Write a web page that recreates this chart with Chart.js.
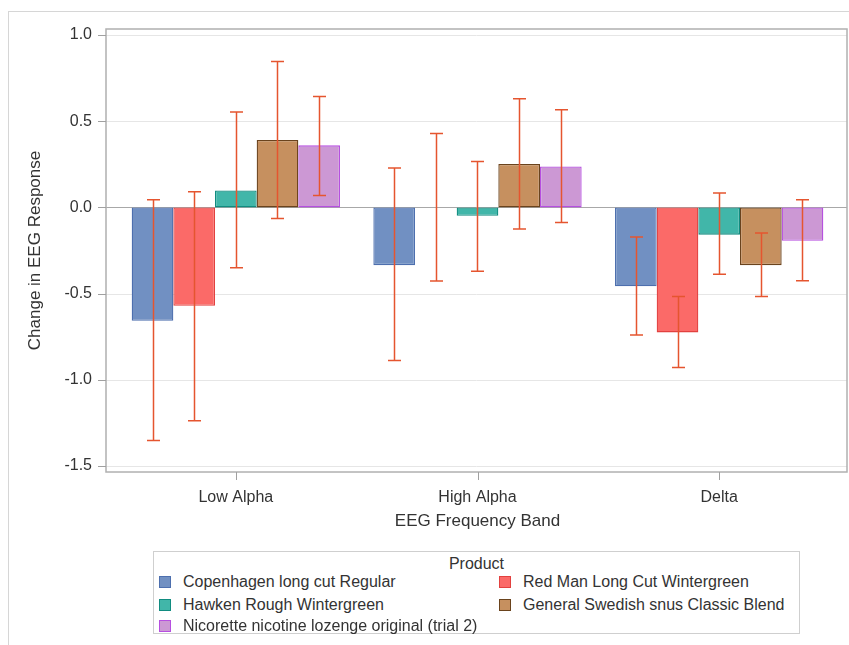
<!DOCTYPE html>
<html>
<head>
<meta charset="utf-8">
<script src="https://cdn.jsdelivr.net/npm/chart.js@4.4.1/dist/chart.umd.min.js"></script>
<style>
  body { margin: 0; background: #fff; }
  #wrap { position: relative; width: 849px; height: 645px; overflow: hidden; font-family: "Liberation Sans", Arial, sans-serif; }
  #outer { position: absolute; left: 8px; top: 11px; width: 900px; height: 700px; border-left: 1px solid #d6d6d6; border-top: 1px solid #d6d6d6; }
  #chart { position: absolute; left: 0; top: 0; }
  #legend { position: absolute; left: 153px; top: 551px; width: 647px; height: 83px; border: 1px solid #cfcfcf; box-sizing: border-box; color: #333; font-size: 16px; background: #fff; }
  #legend .title { position: absolute; left: 0; right: 0; top: 2px; text-align: center; line-height: 20px; }
  #legend .item { position: absolute; line-height: 20px; white-space: nowrap; }
  #legend .sw { position: absolute; left: 0; top: 4px; width: 10px; height: 10px; border: 1.5px solid; }
  #legend .lbl { position: absolute; left: 24px; top: 0; }
</style>
</head>
<body>
<div id="wrap">
  <div id="outer"></div>
  <canvas id="chart" width="849" height="645"></canvas>
  <div id="legend"></div>
</div>
<script>
// ---- data ----
const categories = ['Low Alpha', 'High Alpha', 'Delta'];
const products = [
  'Copenhagen long cut Regular',
  'Red Man Long Cut Wintergreen',
  'Hawken Rough Wintergreen',
  'General Swedish snus Classic Blend',
  'Nicorette nicotine lozenge original (trial 2)'
];
const copenhagen = [-0.658, -0.335, -0.458];
const redMan     = [-0.571,  0.000, -0.725];
const hawken     = [ 0.098, -0.048, -0.158];
const swedish    = [ 0.391,  0.252, -0.335];
const nicorette  = [ 0.360,  0.238, -0.194];

const copenhagenLow = [-1.352, -0.888, -0.740];
const redManLow     = [-1.237, -0.427, -0.929];
const hawkenLow     = [-0.350, -0.371, -0.388];
const swedishLow    = [-0.065, -0.125, -0.517];
const nicoretteLow  = [ 0.069, -0.087, -0.425];

const copenhagenUp = [ 0.044,  0.229, -0.171];
const redManUp     = [ 0.091,  0.429, -0.517];
const hawkenUp     = [ 0.554,  0.267,  0.083];
const swedishUp    = [ 0.846,  0.631, -0.148];
const nicoretteUp  = [ 0.644,  0.567,  0.044];

const yTicks = [-1.5, -1.0, -0.5, 0.0, 0.5, 1.0];

// ---- styles ----
const fills   = ['#7190c2', '#fb6a68', '#41b6a9', '#c6905f', '#cc98d4'];
const borders = ['#4d6fae', '#e2413f', '#118c80', '#6a431d', '#b64fe0'];
const errColor = '#e5552f';

const means = [copenhagen, redMan, hawken, swedish, nicorette];
const lows  = [copenhagenLow, redManLow, hawkenLow, swedishLow, nicoretteLow];
const ups   = [copenhagenUp, redManUp, hawkenUp, swedishUp, nicoretteUp];

const FRAME_L = 9, FRAME_R = 7;

const framePlugin = {
  id: 'framePlugin',
  beforeDatasetsDraw(chart) {
    const { ctx, chartArea: a, scales: { x, y } } = chart;
    const l = a.left - FRAME_L, r = a.right + FRAME_R;
    ctx.save();
    ctx.strokeStyle = '#e6e6e6';
    ctx.lineWidth = 1;
    yTicks.forEach(v => {
      if (v === 0) return;
      const py = Math.round(y.getPixelForValue(v)) + 0.5;
      ctx.beginPath(); ctx.moveTo(l, py); ctx.lineTo(r, py); ctx.stroke();
    });
    ctx.strokeStyle = '#a8a8a8';
    const p0 = Math.round(y.getPixelForValue(0)) + 0.5;
    ctx.beginPath(); ctx.moveTo(l, p0); ctx.lineTo(r, p0); ctx.stroke();
    ctx.restore();
  },
  afterDraw(chart) {
    const { ctx, chartArea: a, scales: { x, y } } = chart;
    const l = a.left - FRAME_L, r = a.right + FRAME_R;
    ctx.save();
    ctx.strokeStyle = '#b0b0b0';
    ctx.lineWidth = 1.5;
    ctx.strokeRect(l, a.top, r - l, a.bottom - a.top);
    ctx.lineWidth = 1;
    ctx.strokeStyle = '#a0a0a0';
    yTicks.forEach(v => {
      const py = Math.round(y.getPixelForValue(v)) + 0.5;
      ctx.beginPath(); ctx.moveTo(l - 8, py); ctx.lineTo(l, py); ctx.stroke();
    });
    categories.forEach((c, i) => {
      const px = Math.round(x.getPixelForValue(i)) + 0.5;
      ctx.beginPath(); ctx.moveTo(px, a.bottom); ctx.lineTo(px, a.bottom + 8); ctx.stroke();
    });
    ctx.restore();
  },
  afterDatasetsDraw(chart) {
    const { ctx, scales: { y } } = chart;
    ctx.save();
    ctx.strokeStyle = errColor;
    ctx.lineWidth = 1.5;
    chart.data.datasets.forEach((ds, i) => {
      const meta = chart.getDatasetMeta(i);
      meta.data.forEach((bar, j) => {
        const px = Math.round(bar.x) + 0.5;
        const yl = y.getPixelForValue(lows[i][j]);
        const yu = y.getPixelForValue(ups[i][j]);
        ctx.beginPath();
        ctx.moveTo(px, yl); ctx.lineTo(px, yu);
        ctx.moveTo(px - 6.5, yl); ctx.lineTo(px + 6.5, yl);
        ctx.moveTo(px - 6.5, yu); ctx.lineTo(px + 6.5, yu);
        ctx.stroke();
      });
    });
    ctx.restore();
  }
};

const datasets = products.map((p, i) => ({
  label: p,
  data: means[i],
  backgroundColor: fills[i],
  borderColor: borders[i],
  borderWidth: 1.3,
  borderSkipped: false,
  categoryPercentage: 0.862,
  barPercentage: 1.0
}));

const chart = new Chart(document.getElementById('chart'), {
  type: 'bar',
  data: { labels: categories, datasets },
  options: {
    responsive: false,
    animation: false,
    events: [],
    layout: { padding: { top: 29, right: 9, bottom: 113, left: 0 } },
    plugins: { legend: { display: false }, tooltip: { enabled: false } },
    scales: {
      x: {
        offset: true,
        grid: { display: false, drawTicks: false },
        border: { display: false },
        ticks: { color: '#333', font: { family: 'Liberation Sans', size: 16 }, padding: 16 },
        title: { display: true, text: 'EEG Frequency Band', color: '#333', font: { family: 'Liberation Sans', size: 17 }, padding: { top: 0, bottom: 0 } },
        afterFit: (axis) => { axis.height = 60; axis.paddingLeft = 0; axis.paddingRight = 0; }
      },
      y: {
        min: -1.535,
        max: 1.035,
        grid: { display: false, drawTicks: false },
        border: { display: false },
        afterBuildTicks: (axis) => { axis.ticks = yTicks.map(v => ({ value: v })); },
        ticks: { color: '#333', font: { family: 'Liberation Sans', size: 16 }, padding: 23, callback: (v) => Number(v).toFixed(1) },
        title: { display: true, text: 'Change in EEG Response', color: '#333', font: { family: 'Liberation Sans', size: 17 }, padding: { top: 25, bottom: 0 } },
        afterFit: (axis) => { axis.width = 115; axis.paddingTop = 0; axis.paddingBottom = 0; }
      }
    }
  },
  plugins: [framePlugin]
});

// ---- HTML legend ----
const legend = document.getElementById('legend');
const t = document.createElement('div');
t.className = 'title'; t.textContent = 'Product';
legend.appendChild(t);
const pos = [[5, 20], [345, 20], [5, 43], [345, 43], [5, 64]];
chart.data.datasets.forEach((ds, i) => {
  const it = document.createElement('div');
  it.className = 'item';
  it.style.left = pos[i][0] + 'px';
  it.style.top = pos[i][1] + 'px';
  const sw = document.createElement('span');
  sw.className = 'sw';
  sw.style.background = ds.backgroundColor;
  sw.style.borderColor = ds.borderColor;
  const lb = document.createElement('span');
  lb.className = 'lbl';
  lb.textContent = ds.label;
  it.appendChild(sw); it.appendChild(lb);
  legend.appendChild(it);
});
</script>
</body>
</html>
